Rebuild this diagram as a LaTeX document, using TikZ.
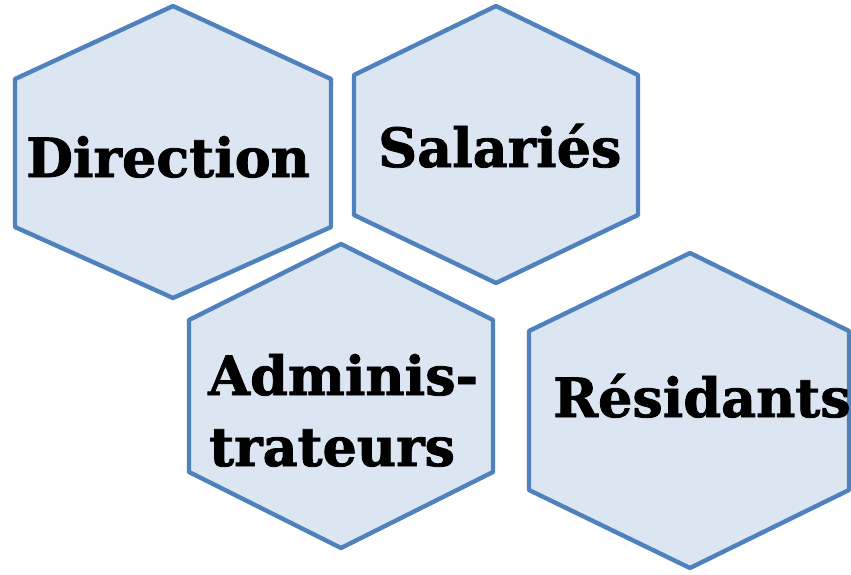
\documentclass[tikz,border=0pt]{standalone}
\usepackage{fontspec}
\setmainfont{DejaVu Serif}
\newfontfamily\heavy{DejaVu Serif Bold}[BoldFont=DejaVu Serif Bold, BoldFeatures={FakeBold=1.5}]
\tikzset{
  hexa/.style={draw=hexline, fill=hexfill, line width=4.4pt, line join=round},
  lbl/.style={anchor=base west, inner sep=0pt, font=\heavy\bfseries\fontsize{54}{64}\selectfont, text=black}
}
\definecolor{hexline}{HTML}{4F81BD}
\definecolor{hexfill}{HTML}{DCE6F2}
\begin{document}
\begin{tikzpicture}[x=1pt,y=-1pt]
\useasboundingbox (0,0) rectangle (851,574);
\draw[hexa] (173,6) -- (331,79) -- (331,227) -- (173,298) -- (15,227) -- (15,79) -- cycle;
\draw[hexa] (496,6) -- (638,75) -- (638,215) -- (496,283) -- (354,215) -- (354,75) -- cycle;
\draw[hexa] (341,244) -- (493,320) -- (493,472) -- (341,548) -- (189,472) -- (189,320) -- cycle;
\draw[hexa] (690,253) -- (849,331) -- (849,490) -- (690,568) -- (529,490) -- (529,331) -- cycle;
\node[lbl] (dir) at (26,177) {Direction};
\node[lbl] (sal) at (378,167) {Salariés};
\node[lbl] (adm1) at (208,395) {Adminis-};
\node[lbl] (adm2) at (209,466) {trateurs};
\node[lbl] (res) at (553,417) {Résidants};
\end{tikzpicture}
\end{document}
